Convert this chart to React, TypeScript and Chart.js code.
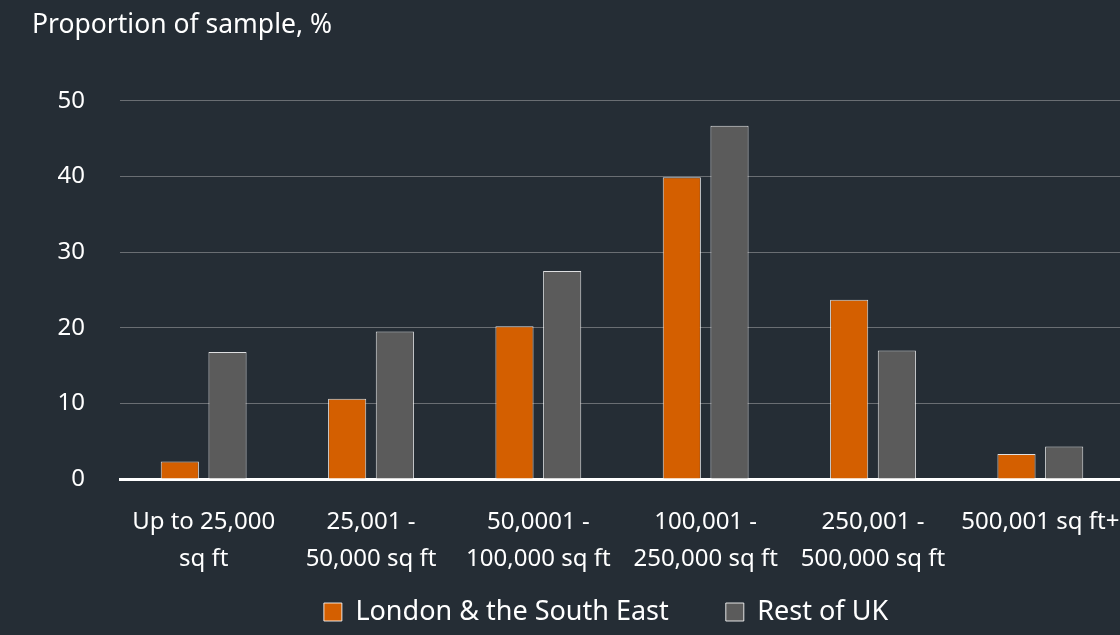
import React, { useEffect, useRef } from "react";
import { Chart, registerables } from "chart.js";

Chart.register(...registerables);

const categories: string[][] = [
  ["Up to 25,000", "sq ft"],
  ["25,001 -", "50,000 sq ft"],
  ["50,0001 -", "100,000 sq ft"],
  ["100,001 -", "250,000 sq ft"],
  ["250,001 -", "500,000 sq ft"],
  ["500,001 sq ft+"],
];
const londonSE = [2.3, 10.6, 20.2, 39.9, 23.7, 3.3];
const restOfUK = [16.8, 19.5, 27.5, 46.7, 17.0, 4.3];
const seriesNames = ["London & the South East", "Rest of UK"];
const yTicks = [0, 10, 20, 30, 40, 50];

const BG = "#252d35";
const FONT = "'Noto Sans', sans-serif";
const LEGEND_PAD = 57;
const LEGEND_FONT = 27;
const LEGEND_CENTER_Y = 612;

const legendPlace = {
  id: "legendPlace",
  afterLayout(chart: any) {
    const lg = chart.legend;
    if (lg) {
      lg.left -= 16;
      lg.right -= 16;
      const h = LEGEND_FONT + LEGEND_PAD + 10;
      lg.top = LEGEND_CENTER_Y - LEGEND_PAD - LEGEND_FONT / 2;
      lg.height = h;
      lg.bottom = lg.top + h;
    }
  },
};

export default function App() {
  const ref = useRef<HTMLCanvasElement | null>(null);
  useEffect(() => {
    if (!ref.current) return;
    const chart = new Chart(ref.current, {
      type: "bar",
      data: {
        labels: categories,
        datasets: [
          {
            label: seriesNames[0],
            data: londonSE,
            backgroundColor: "#d45f00",
            borderColor: "rgba(255,255,255,0.85)",
            borderWidth: 1,
            categoryPercentage: 0.57,
            barPercentage: 0.8,
          },
          {
            label: seriesNames[1],
            data: restOfUK,
            backgroundColor: "#5b5b5b",
            borderColor: "rgba(255,255,255,0.85)",
            borderWidth: 1,
            categoryPercentage: 0.57,
            barPercentage: 0.8,
          },
        ],
      },
      plugins: [legendPlace],
      options: {
        responsive: false,
        animation: false,
        layout: { padding: { left: 32, right: 0, top: 0, bottom: 0 } },
        plugins: {
          title: {
            display: true,
            text: "Proportion of sample, %",
            align: "start",
            color: "#ffffff",
            font: { family: FONT, size: 26.5, weight: "normal" },
            padding: { top: 10, bottom: 59 },
          },
          legend: {
            position: "bottom",
            fullSize: false,
            maxHeight: 56,
            labels: {
              color: "#ffffff",
              font: { family: FONT, size: LEGEND_FONT },
              boxWidth: 18,
              boxHeight: 18,
              padding: LEGEND_PAD,
            },
          },
          tooltip: { enabled: false },
        },
        scales: {
          x: {
            afterFit: (axis: any) => {
              axis.paddingRight = 0;
              axis.height = 100;
            },
            grid: { display: false, drawTicks: false },
            border: { display: true, color: "#ffffff", width: 3 },
            ticks: {
              color: "#ffffff",
              font: { family: FONT, size: 24, lineHeight: 1.54 },
              padding: 25,
              maxRotation: 0,
              autoSkip: false,
            },
          },
          y: {
            min: 0,
            max: 50,
            afterBuildTicks: (axis: any) => {
              axis.ticks = yTicks.map((v) => ({ value: v }));
            },
            afterFit: (axis: any) => {
              axis.width = 88;
            },
            grid: {
              color: (ctx: any) => (ctx.tick && ctx.tick.value === 0 ? "rgba(0,0,0,0)" : "#6a6e73"),
              lineWidth: 1,
              drawTicks: false,
            },
            border: { display: false },
            ticks: {
              color: "#ffffff",
              font: { family: FONT, size: 24 },
              padding: 35,
            },
          },
        },
      },
    });
    return () => chart.destroy();
  }, []);
  return (
    <div
      style={{
        position: "fixed",
        left: 0,
        top: 0,
        width: 1120,
        height: 635,
        overflow: "hidden",
        background: BG,
      }}
    >
      <canvas ref={ref} width={1124} height={635} style={{ display: "block", width: 1124, height: 635 }} />
    </div>
  );
}
